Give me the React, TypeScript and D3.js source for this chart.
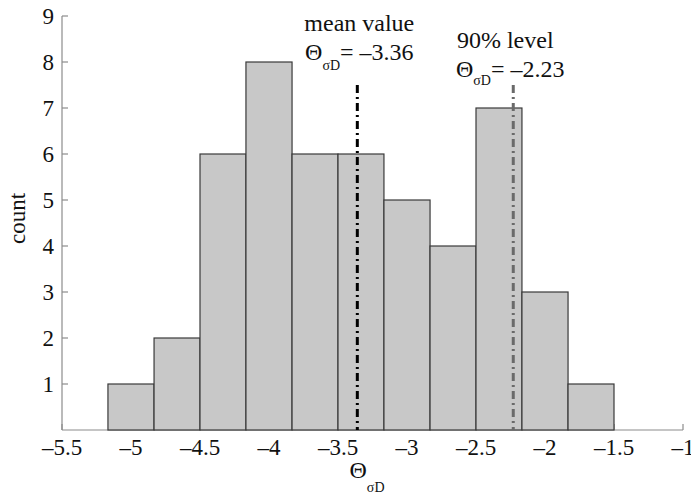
import * as d3 from "d3";

// histogram bins (edges) and counts
const binEdges = [-5.167, -4.833, -4.5, -4.167, -3.833, -3.5, -3.167, -2.833, -2.5, -2.167, -1.833, -1.5];
const counts = [1, 2, 6, 8, 6, 6, 5, 4, 7, 3, 1];

const xTicks = [-5.5, -5, -4.5, -4, -3.5, -3, -2.5, -2, -1.5, -1];
const yTicks = [1, 2, 3, 4, 5, 6, 7, 8, 9];

const meanValue = -3.36;
const level90 = -2.23;
const markerTop = 7.5;

const fmt = (v: number) => (v < 0 ? "\u2013" + Math.abs(v) : String(v));

export default function App() {
  const width = 691;
  const height = 496;
  const margin = { top: 16, right: 8, bottom: 66, left: 62 };
  const font = "Liberation Serif, Times New Roman, Times, DejaVu Serif, serif";

  const x = d3.scaleLinear().domain([-5.5, -1]).range([margin.left, width - margin.right]);
  const y = d3.scaleLinear().domain([0, 9]).range([height - margin.bottom, margin.top]);
  const y0 = y(0);
  const axisColor = "#8c8c8c";
  const textStyle = { fontFamily: font };

  return (
    <div style={{ position: "absolute", left: 0, top: 0 }}>
      <svg width={width} height={height} style={{ display: "block", background: "#fff" }}>
        {/* axes */}
        <line x1={x(-5.5)} x2={x(-1)} y1={y0} y2={y0} stroke={axisColor} strokeWidth={1.2} />
        <line x1={x(-5.5)} x2={x(-5.5)} y1={y(9)} y2={y0} stroke={axisColor} strokeWidth={1.2} />
        {yTicks.map(t => (
          <g key={t}>
            <line x1={x(-5.5)} x2={x(-5.5) + 6} y1={y(t)} y2={y(t)} stroke={axisColor} strokeWidth={1.2} />
            <text x={x(-5.5) - 8} y={y(t)} dy="0.34em" textAnchor="end" fontSize={23} style={textStyle} fill="#111">
              {t}
            </text>
          </g>
        ))}
        {xTicks.map(t => (
          <g key={t}>
            <line x1={x(t)} x2={x(t)} y1={y0} y2={y0 - 6} stroke={axisColor} strokeWidth={1.2} />
            <text x={x(t)} y={y0 + 25} textAnchor="middle" fontSize={23} style={textStyle} fill="#111">
              {fmt(t)}
            </text>
          </g>
        ))}

        {/* bars */}
        {counts.map((c, i) => (
          <rect
            key={i}
            x={x(binEdges[i])}
            y={y(c)}
            width={x(binEdges[i + 1]) - x(binEdges[i])}
            height={y0 - y(c)}
            fill="#c8c8c8"
            stroke="#3a3a3a"
            strokeWidth={1.2}
          />
        ))}

        {/* marker lines */}
        <line
          x1={x(meanValue)} x2={x(meanValue)} y1={y(markerTop)} y2={y0}
          stroke="#000" strokeWidth={3} strokeDasharray="8,4,2,4"
        />
        <line
          x1={x(level90)} x2={x(level90)} y1={y(markerTop)} y2={y0}
          stroke="#6a6a6a" strokeWidth={3} strokeDasharray="8,4,2,4"
        />

        {/* annotations */}
        <text x={x(meanValue) + 2} y={31} textAnchor="middle" fontSize={24} style={textStyle} fill="#111">
          mean value
        </text>
        <text x={x(meanValue) + 2} y={60} textAnchor="middle" fontSize={24} style={textStyle} fill="#111">
          Θ<tspan fontSize={14} dy={10}>σD</tspan>
          <tspan dy={-10}>= {fmt(meanValue)}</tspan>
        </text>
        <text x={x(level90) - 8} y={48} textAnchor="middle" fontSize={24} style={textStyle} fill="#111">
          90% level
        </text>
        <text x={x(level90) - 3} y={77} textAnchor="middle" fontSize={24} style={textStyle} fill="#111">
          Θ<tspan fontSize={14} dy={8}>σD</tspan>
          <tspan dy={-8}>= {fmt(level90)}</tspan>
        </text>

        {/* axis labels */}
        <text x={367} y={478} textAnchor="middle" fontSize={24} style={textStyle} fill="#111">
          Θ<tspan fontSize={14} dy={14}>σD</tspan>
        </text>
        <text
          transform={`translate(25, ${y(4.6)}) rotate(-90)`}
          textAnchor="middle"
          fontSize={23}
          style={textStyle}
          fill="#111"
        >
          count
        </text>
      </svg>
    </div>
  );
}
